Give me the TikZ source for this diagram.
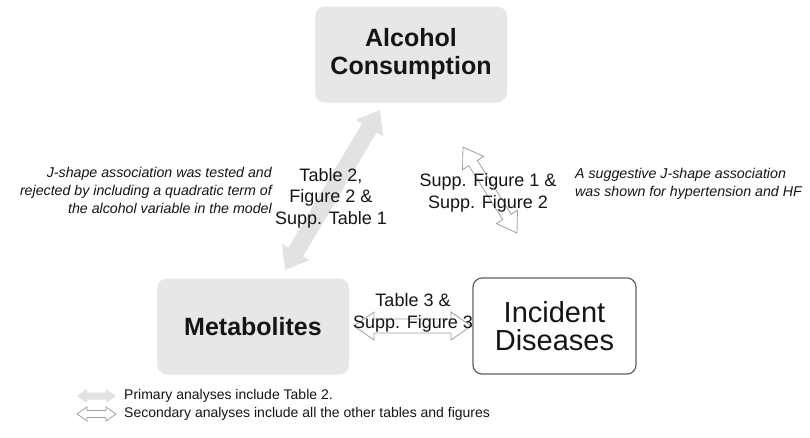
\documentclass[tikz,border=0pt]{standalone}
\usepackage{fontspec}
\setmainfont{Liberation Sans}
\usetikzlibrary{calc}
\definecolor{boxgray}{HTML}{E7E7E7}
\definecolor{arrgray}{HTML}{E2E2E2}
\definecolor{outl}{HTML}{A0A0A0}
\definecolor{bord}{HTML}{606060}
\definecolor{txt}{HTML}{151515}
\newcommand{\blockarrow}[6]{%
  \path[#6] (#1)
    -- ($(#1)!#5!(#2)!#4!90:(#2)$)
    -- ($(#1)!#5!(#2)!#3!90:(#2)$)
    -- ($(#2)!#5!(#1)!#3!-90:(#1)$)
    -- ($(#2)!#5!(#1)!#4!-90:(#1)$)
    -- (#2)
    -- ($(#2)!#5!(#1)!#4!90:(#1)$)
    -- ($(#2)!#5!(#1)!#3!90:(#1)$)
    -- ($(#1)!#5!(#2)!#3!-90:(#2)$)
    -- ($(#1)!#5!(#2)!#4!-90:(#2)$)
    -- cycle;}
\begin{document}
\begin{tikzpicture}[x=1pt,y=-1pt,
  graybox/.style={fill=boxgray, rounded corners=10pt, minimum width=192pt, minimum height=96pt,
    inner sep=0pt, align=center, text=txt, font=\fontsize{25}{28}\selectfont\bfseries},
  whitebox/.style={fill=white, draw=bord, line width=1.2pt, rounded corners=9pt, minimum width=163pt,
    minimum height=96pt, inner sep=0pt, align=center, text=txt, font=\fontsize{29}{28}\selectfont},
  reflabel/.style={inner sep=0pt, align=center, text=txt, font=\fontsize{18}{21.5}\selectfont},
  note/.style={inner sep=0pt, text=txt, font=\fontsize{14.2}{18}\selectfont\itshape},
  legendtext/.style={inner sep=0pt, anchor=west, text=txt, font=\fontsize{14}{16}\selectfont},
  primary/.style={fill=arrgray},
  secondary/.style={fill=white, draw=outl, line width=0.8pt, line join=miter}]
\useasboundingbox (0,0) rectangle (810,437);
\fill[white] (0,0) rectangle (810,437);

% boxes
\node[graybox] (alc) at (411,54.5) {Alcohol\\Consumption};
\node[graybox] (met) at (253,326.5) {Metabolites};
\node[whitebox] (inc) at (554.5,326) {Incident\\Diseases};

% arrow end points
\coordinate (pA) at (285,270);
\coordinate (pB) at (380,110);
\coordinate (sA) at (463,147);
\coordinate (sB) at (517,233);
\coordinate (hA) at (354,326);
\coordinate (hB) at (471,326);
\coordinate (lgA1) at (77,396);
\coordinate (lgB1) at (116,396);
\coordinate (lgA2) at (77,414);
\coordinate (lgB2) at (116,414);

% arrows
\blockarrow{pA}{pB}{8.5pt}{16pt}{21pt}{primary}
\blockarrow{sA}{sB}{5pt}{12.5pt}{19pt}{secondary}
\blockarrow{hA}{hB}{7pt}{14pt}{20pt}{secondary}
\blockarrow{lgA1}{lgB1}{3.5pt}{7pt}{10pt}{primary}
\blockarrow{lgA2}{lgB2}{3.5pt}{7pt}{10pt}{secondary}

% labels
\node[reflabel] (t2) at (331,198) {Table 2,\\Figure 2 \&\\Supp. Table 1};
\node[reflabel] (sf12) at (488,193) {Supp. Figure 1 \&\\Supp. Figure 2};
\node[reflabel] (t3) at (413,313) {Table 3 \&\\Supp. Figure 3};
\node[note, anchor=east, align=right] (nleft) at (272,190)
  {J-shape association was tested and\\rejected by including a quadratic term of\\the alcohol variable in the model};
\node[note, anchor=west, align=left] (nright) at (575,184)
  {A suggestive J-shape association\\was shown for hypertension and HF};
\node[legendtext] (lg1) at (124,396) {Primary analyses include Table 2.};
\node[legendtext] (lg2) at (124,414) {Secondary analyses include all the other tables and figures};
\end{tikzpicture}
\end{document}
